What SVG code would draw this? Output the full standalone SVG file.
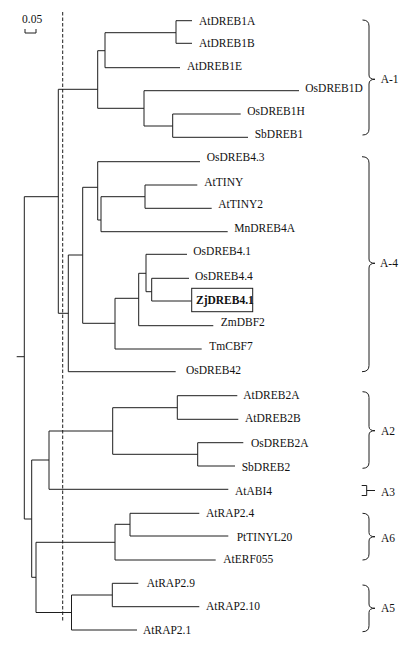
<svg xmlns="http://www.w3.org/2000/svg" width="410" height="645" viewBox="0 0 410 645">
<style>
.br{fill:none;stroke:#1e1e1e;stroke-width:1}
.lb{font-family:"Liberation Serif","Times New Roman",serif;font-size:11.5px;fill:#111}
.bold{font-weight:bold}
.brace{fill:none;stroke:#1e1e1e;stroke-width:1}
</style>
<rect width="410" height="645" fill="#fff"/>
<g id="scale">
<text class="lb" x="22" y="23">0.05</text>
<path class="br" d="M25,29 V33 H36 V29"/>
</g>
<line id="cutoff" x1="62.7" y1="12" x2="62.7" y2="621" stroke="#1e1e1e" stroke-width="1" stroke-dasharray="3.5,2"/>
<g id="connectors">
<path class="br" d="M16.7,356.7 H24.3 M24.3,196.7 V519"/>
<path class="br" d="M24.3,196.7 H58.3 M58.3,89.3 V313.3"/>
<path class="br" d="M58.3,89.3 H97.7 M97.7,50.7 V108.3"/>
<path class="br" d="M97.7,50.7 H105 M105,32.7 V67.7"/>
<path class="br" d="M105,32.7 H176 M176,20.7 V43.3 M176,20.7 H192 M176,43.3 H192"/>
<path class="br" d="M105,67.7 H180"/>
<path class="br" d="M97.7,108.3 H144 M144,90.7 V126 M144,90.7 H299"/>
<path class="br" d="M144,126 H172.7 M172.7,114 V137.3 M172.7,114 H240.7 M172.7,137.3 H248"/>
<path class="br" d="M58.3,313.3 H68.3 M68.3,255 V371.7 M68.3,371.7 H175.7"/>
<path class="br" d="M68.3,255 H82.7 M82.7,187.3 V323.3"/>
<path class="br" d="M82.7,187.3 H97.7 M97.7,161.7 V220 M97.7,161.7 H200"/>
<path class="br" d="M97.7,220 H101 M101,196.7 V231.7 M101,231.7 H227.7"/>
<path class="br" d="M101,196.7 H145 M145,185 V208.3 M145,185 H197.3 M145,208.3 H211.7"/>
<path class="br" d="M82.7,323.3 H115 M115,298.3 V349 M115,349 H201.7"/>
<path class="br" d="M115,298.3 H138.7 M138.7,273.3 V325.7 M138.7,325.7 H213.3"/>
<path class="br" d="M138.7,273.3 H146 M146,254.3 V291.7 M146,254.3 H187"/>
<path class="br" d="M146,291.7 H151.7 M151.7,278.3 V301 M151.7,278.3 H189 M151.7,301 H191.7"/>
<path class="br" d="M24.3,519 H31.7 M31.7,460 V577.3"/>
<path class="br" d="M31.7,460 H49 M49,431 V489.3 M49,489.3 H228.3"/>
<path class="br" d="M49,431 H112.7 M112.7,407.7 V454.3"/>
<path class="br" d="M112.7,407.7 H177.3 M177.3,395.7 V419.3 M177.3,395.7 H237.3 M177.3,419.3 H238.3"/>
<path class="br" d="M112.7,454.3 H197.7 M197.7,442.7 V466 M197.7,442.7 H243.3 M197.7,466 H235"/>
<path class="br" d="M31.7,577.3 H36 M36,542.3 V612.5"/>
<path class="br" d="M36,542.3 H115 M115,524.3 V560 M115,560 H215.7"/>
<path class="br" d="M115,524.3 H130 M130,513.3 V536 M130,513.3 H199.3 M130,536 H228.3"/>
<path class="br" d="M36,612.5 H71.5 M71.5,595 V630 M71.5,630 H137"/>
<path class="br" d="M71.5,595 H112.3 M112.3,583.3 V606.7 M112.3,583.3 H138.3 M112.3,606.7 H199.3"/>
</g>
<g id="AtDREB1A"><text class="lb" x="199" y="24.7">AtDREB1A</text></g>
<g id="AtDREB1B"><text class="lb" x="199" y="47.3">AtDREB1B</text></g>
<g id="AtDREB1E"><text class="lb" x="187" y="70">AtDREB1E</text></g>
<g id="OsDREB1D"><text class="lb" x="305.3" y="92.3">OsDREB1D</text></g>
<g id="OsDREB1H"><text class="lb" x="247.3" y="114.7">OsDREB1H</text></g>
<g id="SbDREB1"><text class="lb" x="254.7" y="138.3">SbDREB1</text></g>
<g id="OsDREB4.3"><text class="lb" x="206.7" y="160.7">OsDREB4.3</text></g>
<g id="AtTINY"><text class="lb" x="204.3" y="185.7">AtTINY</text></g>
<g id="AtTINY2"><text class="lb" x="218.3" y="208">AtTINY2</text></g>
<g id="MnDREB4A"><text class="lb" x="234.3" y="231.7">MnDREB4A</text></g>
<g id="OsDREB4.1"><text class="lb" x="193.3" y="254.7">OsDREB4.1</text></g>
<g id="OsDREB4.4"><text class="lb" x="195" y="279.7">OsDREB4.4</text></g>
<g id="ZjDREB4.1">
<rect x="191.7" y="288.3" width="61" height="23.4" fill="#fff" stroke="#1e1e1e" stroke-width="1"/>
<text class="lb bold" x="196" y="303.5" font-size="11">ZjDREB4.1</text>
</g>
<g id="ZmDBF2"><text class="lb" x="220.7" y="326.3">ZmDBF2</text></g>
<g id="TmCBF7"><text class="lb" x="209.3" y="349.7">TmCBF7</text></g>
<g id="OsDREB42"><text class="lb" x="186" y="374">OsDREB42</text></g>
<g id="AtDREB2A"><text class="lb" x="243.3" y="399">AtDREB2A</text></g>
<g id="AtDREB2B"><text class="lb" x="245" y="422.3">AtDREB2B</text></g>
<g id="OsDREB2A"><text class="lb" x="251" y="446.7">OsDREB2A</text></g>
<g id="SbDREB2"><text class="lb" x="241.7" y="470.7">SbDREB2</text></g>
<g id="AtABI4"><text class="lb" x="235" y="494.7">AtABI4</text></g>
<g id="AtRAP2.4"><text class="lb" x="206" y="516.7">AtRAP2.4</text></g>
<g id="PtTINYL20"><text class="lb" x="236.7" y="540.7">PtTINYL20</text></g>
<g id="AtERF055"><text class="lb" x="223.3" y="563.3">AtERF055</text></g>
<g id="AtRAP2.9"><text class="lb" x="146.7" y="587.3">AtRAP2.9</text></g>
<g id="AtRAP2.10"><text class="lb" x="206" y="610">AtRAP2.10</text></g>
<g id="AtRAP2.1"><text class="lb" x="143" y="634">AtRAP2.1</text></g>
<g id="group-A-1">
<path class="brace" d="M362.5,20 Q369,20 369,26 L369,75 Q369,79.3 375,79.3 Q369,79.3 369,84 L369,129 Q369,135 362.5,135"/>
<text class="lb" x="380.7" y="83.3">A-1</text>
</g>
<g id="group-A-4">
<path class="brace" d="M362,156.7 Q369,156.7 369,163 L369,259 Q369,263.3 375,263.3 Q369,263.3 369,268 L369,365.5 Q369,371.7 362,371.7"/>
<text class="lb" x="380" y="267.3">A-4</text>
</g>
<g id="group-A2">
<path class="brace" d="M362.5,391.7 Q369,391.7 369,397.5 L369,426.5 Q369,430.7 375,430.7 Q369,430.7 369,435 L369,462.5 Q369,468.3 362.5,468.3"/>
<text class="lb" x="381" y="434.7">A2</text>
</g>
<g id="group-A3">
<path class="brace" d="M361.7,485.5 H366.7 V495.5 H361.7 M366.7,490.5 H375"/>
<text class="lb" x="381" y="496">A3</text>
</g>
<g id="group-A6">
<path class="brace" d="M362.5,513.3 Q369,513.3 369,519 L369,532.5 Q369,536.7 375,536.7 Q369,536.7 369,541 L369,554 Q369,560 362.5,560"/>
<text class="lb" x="381" y="542">A6</text>
</g>
<g id="group-A5">
<path class="brace" d="M362.5,585 Q369,585 369,591 L369,604 Q369,608.3 375,608.3 Q369,608.3 369,612.5 L369,625.7 Q369,631.7 362.5,631.7"/>
<text class="lb" x="381" y="612.3">A5</text>
</g>
</svg>
